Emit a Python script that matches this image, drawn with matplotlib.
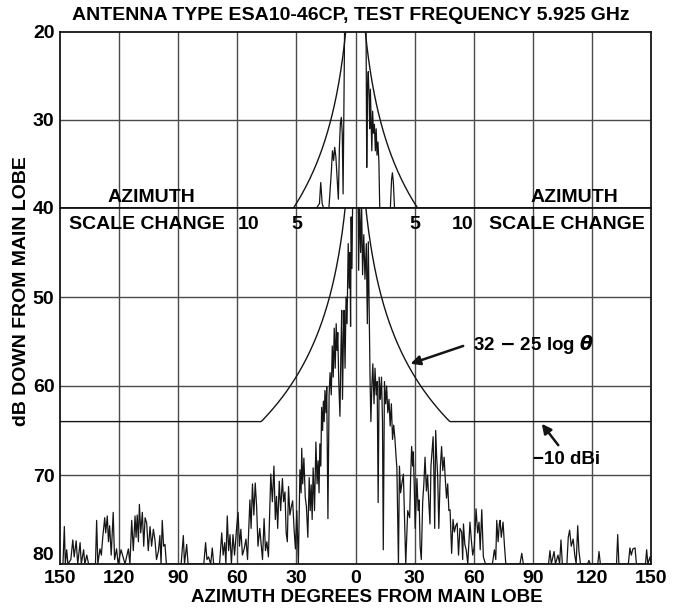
import matplotlib
matplotlib.use("Agg")
import matplotlib.pyplot as plt
import numpy as np

# --- Data ---

# lower panel: full azimuth scale, dB down from main lobe
lower_az = [
    -150, -148.5, -147.8, -147.3, -146.6, -146, -144.5, -143.5, -142.8, -141.8,
    -141, -139.8, -139.2, -138, -137.4, -136.4, -135.5, -132, -131.4, -130.8,
    -129.7, -129, -128.3, -127.3, -126.8, -126, -125.4, -124.8, -124, -123,
    -122.3, -121.3, -120.5, -119, -118, -117, -115.3, -114.5, -113.6, -112.8,
    -111.9, -111.4, -110.8, -110.2, -109.7, -109, -108.2, -107.5, -106.8, -106,
    -105.2, -104.3, -103.5, -102.6, -101.8, -101, -100, -99.3, -98.7, -98.1,
    -97.4, -96.7, -96, -88.5, -87.4, -86.8, -85.7, -85, -77, -76.1,
    -75.4, -74.6, -73.5, -72.7, -72, -69, -67.9, -67.2, -66.4, -65.8,
    -65.1, -64.4, -63.7, -63, -62.2, -61.4, -60.3, -59.6, -58.9, -58.2,
    -57.4, -56.5, -55.6, -54.8, -53.6, -53, -52.3, -51.6, -50.9, -50.2,
    -49.5, -48.6, -47.8, -47.2, -46.4, -45.7, -45, -44.2, -43.0, -42.2,
    -41.4, -40.7, -40.1, -39.5, -38.7, -38, -37.1, -36.5, -35.8, -35.2,
    -34.6, -34.0, -33.3, -32.6, -31.9, -31.2, -30.5, -29.8, -29, -28.2,
    -27.6, -27.3, -26.8, -26.2, -25.5, -24.9, -24.2, -23.5, -23, -22.5,
    -22, -21.5, -20.8, -20.1, -19.5, -19.0, -18.5, -18.1, -17.6, -17.2,
    -16.7, -16.3, -15.9, -15.5, -15, -14.6, -14.0, -13.4, -12.9, -12.3,
    -11.8, -11.3, -10.8, -10.3, -9.8, -9.4, -9, -8.5, -7.9, -7.4,
    -7, -6.6, -6.1, -5.8, -5.3, -4.8, -4.3, -3.7, -3.2, -2.8,
    -2.5, -2.2, -1.8, -1.4, 0, 1.3, 1.6, 2.0, 2.6, 3.1,
    3.6, 4.2, 4.8, 5.5, 6.0, 6.5, 7.0, 7.4, 7.8, 8.3,
    8.8, 9.4, 9.9, 10.5, 11.0, 11.5, 12.0, 12.6, 13.2, 13.7,
    14.1, 14.7, 15.3, 15.8, 16.4, 17.0, 17.6, 18.2, 18.8, 19.4,
    20.0, 20.6, 21.0, 21.8, 22.3, 22.9, 23.5, 24.3, 24.9, 25.5,
    26.5, 27.5, 28.0, 28.5, 29.0, 29.3, 29.8, 30.3, 30.8, 31.2,
    31.8, 32.3, 32.8, 33.4, 34.1, 34.7, 35.3, 36.0, 36.6, 37.2,
    37.8, 38.3, 38.8, 39.4, 39.8, 40.2, 40.7, 41.2, 41.7, 42.3,
    43.1, 43.7, 44.3, 45.0, 45.5, 46.2, 46.8, 47.4, 48.0, 48.8,
    49.5, 50.2, 50.9, 51.6, 52.3, 53.0, 53.9, 54.4, 54.8, 55.5,
    56.2, 57.0, 58.1, 58.8, 59.5, 60.3, 61.2, 62.0, 62.7, 63.3,
    64.1, 64.9, 66, 69.5, 70.5, 71.2, 71.7, 72.4, 73.0, 73.4,
    74.0, 74.9, 75.6, 76.3, 83.5, 84.4, 85.2, 98, 98.7, 99.4,
    100.8, 101.5, 102.8, 103.6, 104.3, 105, 107.3, 108.0, 108.7, 109.5,
    110.5, 111.3, 112.0, 112.8, 113.4, 114.2, 117.8, 118.5, 119.2, 123,
    123.6, 124.3, 132.5, 133.1, 133.7, 138.5, 139.3, 140, 140.8, 141.9,
    142.6, 147.2, 147.8, 148.4, 149.5, 150,
]
lower_db = [
    80, 80, 75.8, 80, 78.4, 80, 79.5, 77.3, 79.2, 77.4,
    80, 77.6, 80, 78.4, 80, 79.0, 80, 80, 75.1, 80,
    78.3, 79, 77, 74.8, 76.5, 74.6, 77.5, 75.7, 79, 74.2,
    79.5, 78.3, 80, 78.4, 79.2, 80, 78.3, 80, 75.1, 78.5,
    74.6, 77, 74.5, 77.5, 73.3, 76.5, 74.2, 78, 74.8, 75.4,
    78.5, 75.8, 78, 76.1, 77.3, 79.5, 78.5, 76.8, 80, 75.1,
    78, 77.8, 80, 80, 76.8, 80, 77.8, 80, 80, 77.6,
    79.5, 79.2, 80, 78.2, 80, 80, 76.5, 79, 77.6, 80,
    74.6, 78.5, 76.7, 80, 76.7, 79, 75.8, 74.2, 78, 76.1,
    79, 78.3, 77.2, 79.5, 72.8, 76, 71, 74.5, 70.9, 73.5,
    78, 76, 78, 79.5, 74.9, 78.5, 77.5, 79.2, 69.9, 73,
    69.0, 75, 72.4, 76, 70.7, 74, 70.4, 73, 71.9, 76.5,
    77.5, 71.3, 74.5, 73.6, 72.9, 76, 78.3, 74, 80, 69.4,
    72, 67.0, 71, 68.1, 72.5, 73.6, 77, 70.3, 74, 71.1,
    75, 69.2, 74, 66.3, 71, 68.4, 72, 66.5, 69, 62.4,
    65, 61.7, 64, 60.5, 63, 60.1, 74.9, 61, 58.5, 61,
    55.5, 59, 53.5, 58, 53, 56, 54, 59.5, 63.4, 56,
    51.5, 61.5, 54, 51.5, 58, 50, 53, 44, 49, 45,
    53.3, 41, 46.8, 38, 20, 38, 47, 39, 45, 39.5,
    47.5, 43, 48, 44, 53, 43.8, 52, 59.3, 64, 60,
    57.5, 62, 58, 61, 59.5, 73.1, 59, 61.5, 59, 64,
    78.4, 59.5, 62, 60, 63, 61.5, 64.5, 62, 66, 64.4,
    65.9, 68, 69.2, 80, 69, 72, 71, 69.9, 75, 80,
    74, 74.8, 70, 66.8, 69, 67.4, 71, 76, 72.8, 70.4,
    74, 72.8, 78, 79.5, 73, 71, 68.0, 71.8, 70, 73,
    75.5, 69, 67.5, 65.7, 70, 76, 65.0, 68, 70, 76,
    69, 66.8, 69.5, 68, 70.2, 72.6, 71, 74, 73.9, 78.8,
    75, 76.4, 75.7, 75.4, 79, 76, 76.4, 79.5, 75.5, 77.8,
    78.4, 80, 75.3, 77.3, 79, 78, 73.8, 76.5, 75.3, 78.4,
    73.9, 79.2, 80, 80, 78.4, 79.5, 75.1, 77.5, 75.5, 75.1,
    77, 75.3, 77.9, 80, 80, 78.8, 80, 80, 78.5, 80,
    78.6, 80, 79, 80, 77.3, 80, 80, 77.0, 76.2, 78,
    77.2, 79, 80, 75.7, 78.5, 80, 80, 79.6, 80, 80,
    78.6, 80, 80, 76.7, 80, 80, 78.2, 79, 78.3, 78.2,
    80, 80, 78.4, 80, 79.2, 80,
]

# upper panel: expanded azimuth scale (1/6 of the lower one)
upper_az = [
    -25, -3.3, -3.05, -2.94, -2.82, -2.7, -2.25, -2.05, -1.95, -1.85,
    -1.76, -1.66, -1.56, -1.45, -1.36, -1.28, -1.2, -1.12, -1.05, -0.97,
    -0.9, 0, 0.88, 0.95, 1.02, 1.08, 1.15, 1.2, 1.26, 1.32,
    1.38, 1.45, 1.52, 1.6, 1.68, 1.75, 1.82, 1.9, 1.98, 2.05,
    2.95, 3.05, 3.12, 3.2, 3.3, 25,
]
upper_db = [
    40, 40, 39.5, 37.1, 39.5, 40, 40, 36, 33.5, 34.6,
    33.1, 34.2, 36.5, 39, 33, 30.4, 29.7, 31.5, 38.4, 27,
    16, 0, 16, 35.4, 26, 24.5, 27.5, 31, 26.5, 30,
    33.5, 29, 31.5, 30.5, 33.5, 31, 34, 32.5, 34.8, 40,
    40, 36.8, 36, 37, 40, 40,
]

SCALE_RATIO = 6  # upper panel azimuth is expanded 6x
lower_ticks = [-150, -120, -90, -60, -30, 0, 30, 60, 90, 120, 150]
upper_grid = [-20, -15, -10, -5, 0, 5, 10, 15, 20]
scale_change_labels = [(-10, "10", "left"), (-5, "5", "center"),
                       (5, "5", "center"), (10, "10", "right")]

# reference envelope 32 - 25 log(theta) dBi, floor -10 dBi
MAIN_LOBE_GAIN = 54.0
ENV_A, ENV_B, ENV_FLOOR = 32.0, 25.0, -10.0

FONT = ["Liberation Sans", "DejaVu Sans"]
INK = "#151515"
GRID = "#4a4a4a"
FS = 14

plt.rcParams["font.family"] = FONT
plt.rcParams["font.weight"] = "bold"
plt.rcParams["mathtext.fontset"] = "dejavusans"


def envelope(theta):
    gain = np.maximum(ENV_A - ENV_B * np.log10(theta), ENV_FLOOR)
    return MAIN_LOBE_GAIN - gain


fig = plt.figure(figsize=(6.73, 6.08), dpi=100)
L, W = 60 / 673, 591 / 673
bottom, split, top = 1 - 564 / 608, 1 - 208 / 608, 1 - 32 / 608
ax_top = fig.add_axes([L, split, W, top - split])
ax_bot = fig.add_axes([L, bottom, W, split - bottom])

# --- grids ---
for x in upper_grid:
    ax_top.axvline(x, color=GRID, lw=1.0, zorder=1)
ax_top.axhline(30, color=GRID, lw=1.0, zorder=1)
for x in lower_ticks[1:-1]:
    ax_bot.axvline(x, color=GRID, lw=1.0, zorder=1)
for y in [50, 60, 70]:
    ax_bot.axhline(y, color=GRID, lw=1.0, zorder=1)

# --- measured pattern ---
ax_top.plot(upper_az, upper_db, color=INK, lw=0.9, zorder=3)
ax_bot.plot(lower_az, lower_db, color=INK, lw=0.9, zorder=3)

# --- envelopes ---
th_up = np.geomspace(0.5, 25, 200)
th_lo = np.geomspace(3, 150, 400)
for sgn in (-1, 1):
    ax_top.plot(sgn * th_up, envelope(th_up), color=INK, lw=1.0, zorder=2)
    ax_bot.plot(sgn * th_lo, envelope(th_lo), color=INK, lw=1.0, zorder=2)

ax_top.set_xlim(-25, 25)
ax_top.set_ylim(40, 20)
ax_bot.set_xlim(-150, 150)
ax_bot.set_ylim(80, 40)

ax_top.set_xticks([])
ax_top.set_yticks([20, 30, 40])
ax_bot.set_yticks([50, 60, 70, 80])
ax_bot.set_xticks(lower_ticks)
ax_bot.set_xticklabels([str(abs(t)) for t in lower_ticks])
for ax in (ax_top, ax_bot):
    ax.tick_params(length=0, labelsize=FS, pad=4)
    for sp in ax.spines.values():
        sp.set_color(INK)
        sp.set_linewidth(1.3)
# the "80" label sits just above the baseline, clear of the "150"
ax_bot.get_yticklabels()[-1].set_va("bottom")

# --- texts ---
fig.text(351 / 673, 1 - 15 / 608, "ANTENNA TYPE ESA10-46CP, TEST FREQUENCY 5.925 GHz",
         ha="center", va="center", fontsize=FS, fontweight="bold")
fig.text(367 / 673, 1 - 598 / 608, "AZIMUTH DEGREES FROM MAIN LOBE",
         ha="center", va="center", fontsize=13.5, fontweight="bold")
fig.text(22 / 673, 1 - 291 / 608, "dB DOWN FROM MAIN LOBE", rotation=90,
         ha="center", va="center", fontsize=FS, fontweight="bold")

ax_top.text(-17.3, 38.8, "AZIMUTH", ha="center", va="center", fontsize=FS)
ax_top.text(18.5, 38.8, "AZIMUTH", ha="center", va="center", fontsize=FS)
ax_bot.text(-145.5, 41.8, "SCALE CHANGE", ha="left", va="center", fontsize=FS)
ax_bot.text(147, 41.8, "SCALE CHANGE", ha="right", va="center", fontsize=FS)
for x, lab, ha in scale_change_labels:
    ax_bot.text(x * SCALE_RATIO, 41.8, lab, ha=ha, va="center", fontsize=FS)

ax_bot.text(59.6, 55.3, r"32 $-$ 25 log $\theta$", ha="left", va="center", fontsize=13.5)
ax_bot.annotate("", xy=(26.6, 57.6), xytext=(56, 55.4),
                arrowprops=dict(arrowstyle="-|>", color=INK, lw=1.8, mutation_scale=14))
ax_bot.text(90, 68.3, "\u221210 dBi", ha="left", va="center", fontsize=13.5)
ax_bot.annotate("", xy=(93.7, 64.0), xytext=(103.8, 66.9),
                arrowprops=dict(arrowstyle="-|>", color=INK, lw=1.8, mutation_scale=14))

fig.savefig("out.png", dpi=100, facecolor="white")
